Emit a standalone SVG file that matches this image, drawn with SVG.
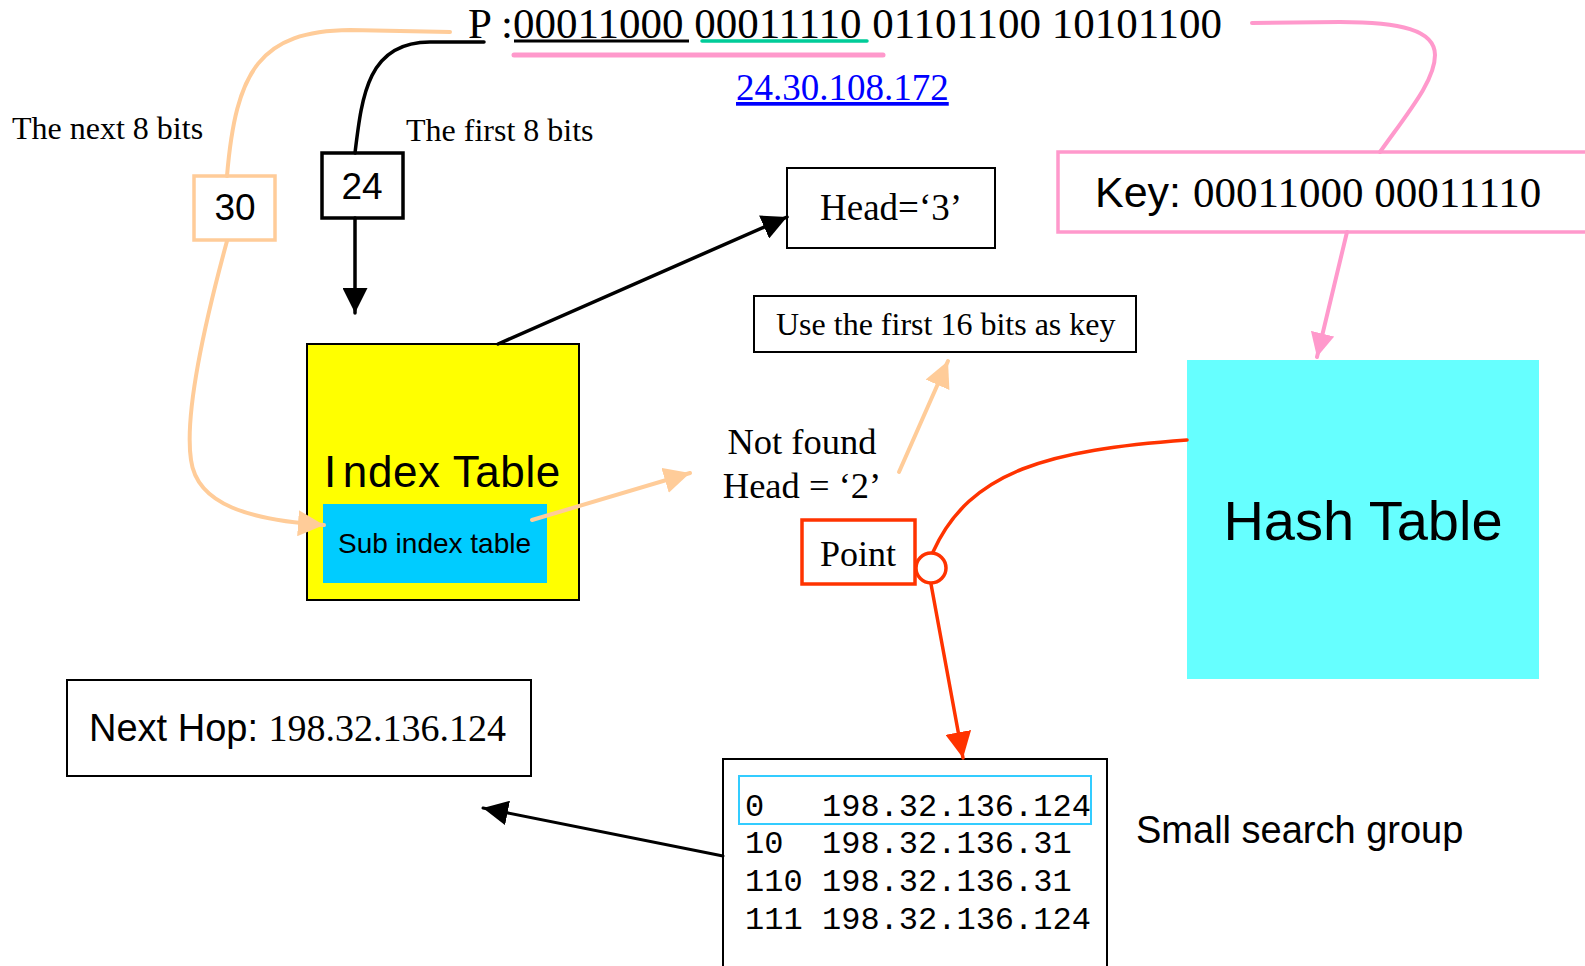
<svg xmlns="http://www.w3.org/2000/svg" width="1585" height="966" viewBox="0 0 1585 966">
  <style>
    .serif { font-family: "Liberation Serif", "Times New Roman", serif; fill: #000; }
    .sans { font-family: "Liberation Sans", Arial, sans-serif; fill: #000; }
    .mono { font-family: "Liberation Mono", "Courier New", monospace; fill: #000; font-size: 32px; }
    .box { fill: #fff; stroke: #000; stroke-width: 2; }
    .wire { fill: none; stroke-linecap: round; stroke-linejoin: round; }
    .k { stroke: #000; stroke-width: 3.5; }
    .o { stroke: #ffcc99; stroke-width: 4; }
    .p { stroke: #ff99cc; stroke-width: 4; }
    .r { stroke: #ff3300; stroke-width: 3.5; }
  </style>
  <defs>
    <marker id="ah-k" viewBox="0 0 10 10" refX="10" refY="5" markerWidth="25" markerHeight="25" markerUnits="userSpaceOnUse" orient="auto">
      <path d="M0,0 L10,5 L0,10 z" fill="#000"/>
    </marker>
    <marker id="ah-o" viewBox="0 0 10 10" refX="10" refY="5" markerWidth="26" markerHeight="26" markerUnits="userSpaceOnUse" orient="auto">
      <path d="M0,0 L10,5 L0,10 z" fill="#ffcc99"/>
    </marker>
    <marker id="ah-p" viewBox="0 0 10 10" refX="10" refY="5" markerWidth="24" markerHeight="24" markerUnits="userSpaceOnUse" orient="auto">
      <path d="M0,0 L10,5 L0,10 z" fill="#ff99cc"/>
    </marker>
    <marker id="ah-r" viewBox="0 0 10 10" refX="10" refY="5" markerWidth="26" markerHeight="26" markerUnits="userSpaceOnUse" orient="auto">
      <path d="M0,0 L10,5 L0,10 z" fill="#ff3300"/>
    </marker>
  </defs>

  <rect width="1585" height="966" fill="#fff"/>

  <!-- address bits and their highlights -->
  <g id="address">
    <text class="serif" x="468" y="38" font-size="43">P :00011000 00011110 01101100 10101100</text>
    <line x1="514" y1="41" x2="689" y2="41" stroke="#000" stroke-width="3"/>
    <line x1="702" y1="41" x2="867" y2="41" stroke="#00cc99" stroke-width="3.5" stroke-linecap="round"/>
    <line x1="514" y1="55" x2="883" y2="55" stroke="#ff99cc" stroke-width="5" stroke-linecap="round"/>
    <text class="serif" x="736" y="100" font-size="37" style="fill:#0000ff" text-decoration="underline">24.30.108.172</text>
  </g>

  <g id="label-next">
    <text class="serif" x="12" y="139" font-size="32">The next 8 bits</text>
  </g>
  <g id="label-first">
    <text class="serif" x="406" y="141" font-size="32">The first 8 bits</text>
  </g>

  <g id="node-30">
    <rect x="194" y="176" width="81" height="64" fill="#fff" stroke="#ffcc99" stroke-width="3.5"/>
    <text class="sans" x="235" y="220" font-size="37" text-anchor="middle">30</text>
  </g>

  <g id="node-24">
    <rect x="322" y="153" width="81" height="65" fill="#fff" stroke="#000" stroke-width="3.5"/>
    <text class="sans" x="362" y="199" font-size="37" text-anchor="middle">24</text>
  </g>

  <g id="index-table">
    <rect x="307" y="344" width="272" height="256" fill="#ffff00" stroke="#000" stroke-width="2"/>
    <text class="sans" x="324" y="487" font-size="44" letter-spacing="0.6">I<tspan dx="6">ndex Table</tspan></text>
  </g>

  <g id="sub-index-table">
    <rect x="323" y="504" width="224" height="79" fill="#00ccff"/>
    <text class="sans" x="338" y="553" font-size="28">Sub index table</text>
  </g>

  <g id="head-3">
    <rect class="box" x="787" y="168" width="208" height="80"/>
    <text class="serif" x="820" y="220" font-size="37">Head=‘3’</text>
  </g>

  <g id="use-key">
    <rect class="box" x="754" y="296" width="382" height="56"/>
    <text class="serif" x="776" y="335" font-size="32">Use the first 16 bits as key</text>
  </g>

  <g id="not-found">
    <text class="serif" x="802" y="454" font-size="36.5" text-anchor="middle">Not found</text>
    <text class="serif" x="802" y="498" font-size="36.5" text-anchor="middle">Head = ‘2’</text>
  </g>

  <g id="key">
    <rect x="1058" y="152" width="540" height="80" fill="#fff" stroke="#ff99cc" stroke-width="3.5"/>
    <text x="1095" y="207" font-size="43"><tspan class="sans">Key: </tspan><tspan class="serif">00011000 00011110</tspan></text>
  </g>

  <g id="hash-table">
    <rect x="1187" y="360" width="352" height="319" fill="#66ffff"/>
    <text class="sans" x="1363" y="540" font-size="56" text-anchor="middle">Hash Table</text>
  </g>

  <g id="point">
    <rect x="802" y="520" width="113" height="64" fill="#fff" stroke="#ff3300" stroke-width="3.5"/>
    <text class="serif" x="858" y="566" font-size="36" text-anchor="middle">Point</text>
    <circle cx="931" cy="568" r="15" fill="#fff" stroke="#ff3300" stroke-width="3.5"/>
  </g>

  <g id="search-group">
    <rect class="box" x="723" y="759" width="384" height="220"/>
    <rect x="739" y="776" width="352" height="48" fill="none" stroke="#33ccff" stroke-width="2"/>
    <text class="mono" x="745" y="816">0</text>
    <text class="mono" x="822" y="816">198.32.136.124</text>
    <text class="mono" x="745" y="853">10</text>
    <text class="mono" x="822" y="853">198.32.136.31</text>
    <text class="mono" x="745" y="891">110</text>
    <text class="mono" x="822" y="891">198.32.136.31</text>
    <text class="mono" x="745" y="929">111</text>
    <text class="mono" x="822" y="929">198.32.136.124</text>
  </g>

  <g id="search-label">
    <text class="sans" x="1136" y="843" font-size="38">Small search group</text>
  </g>

  <g id="next-hop">
    <rect class="box" x="67" y="680" width="464" height="96"/>
    <text x="89" y="741" font-size="38"><tspan class="sans">Next Hop: </tspan><tspan class="serif">198.32.136.124</tspan></text>
  </g>

  <!-- connectors, drawn over the tables -->
  <g id="connectors">
    <path class="wire k" d="M355,153 C362,95 368,42 430,42 L484,42"/>
    <path class="wire o" d="M227,176 C236,70 260,31 350,30 L450,32"/>
    <path class="wire k" d="M355,218 L355,313" marker-end="url(#ah-k)"/>
    <path class="wire o" d="M227,241 C200,340 185,420 191,460 C197,505 250,520 324,525" marker-end="url(#ah-o)"/>
    <path class="wire k" d="M498,344 L787,217" marker-end="url(#ah-k)"/>
    <path class="wire o" d="M532,520 L690,473" marker-end="url(#ah-o)"/>
    <path class="wire o" d="M899,472 L948,361" marker-end="url(#ah-o)"/>
    <path class="wire p" d="M1252,23 L1340,22 C1400,22 1435,30 1435,55 C1435,80 1410,110 1380,152"/>
    <path class="wire p" d="M1347,232 L1317,357" marker-end="url(#ah-p)"/>
    <path class="wire r" d="M1187,440 C1050,450 970,470 933,552"/>
    <path class="wire r" d="M931,584 L963,758" marker-end="url(#ah-r)"/>
    <path class="wire k" d="M723,856 L483,808" marker-end="url(#ah-k)" style="stroke-width:3"/>
  </g>
</svg>
